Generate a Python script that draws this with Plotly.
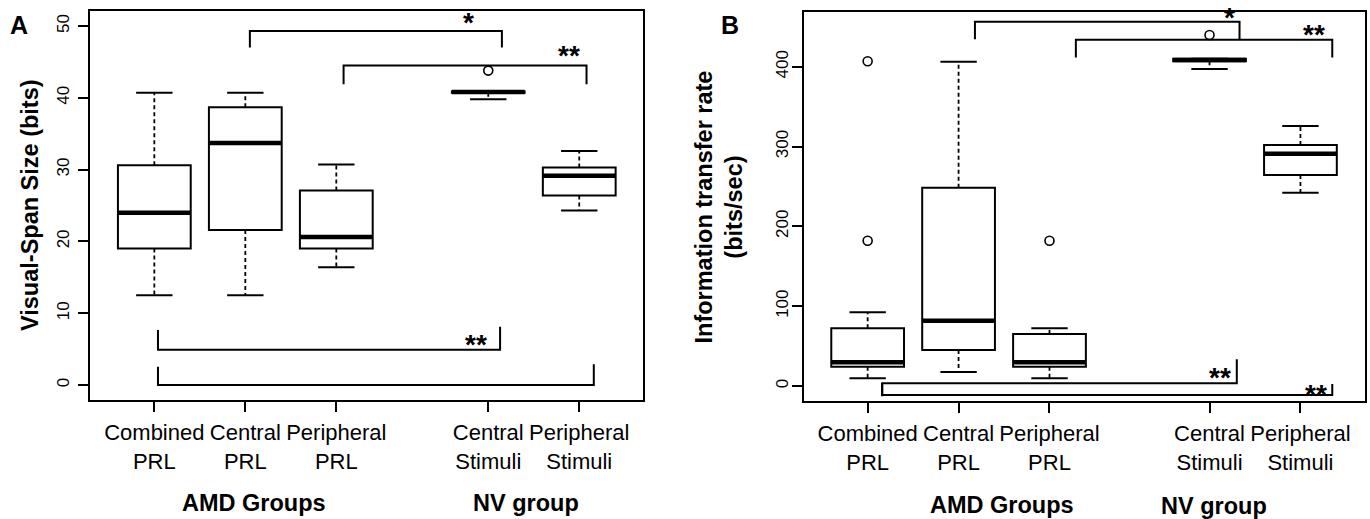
import plotly.graph_objects as go

W, H = 1370, 519
FONT = "Liberation Sans, Arial, Helvetica, sans-serif"

# ---------------- data ----------------
categories = ["Combined<br>PRL", "Central<br>PRL", "Peripheral<br>PRL",
              "Central<br>Stimuli", "Peripheral<br>Stimuli"]
pos_a = [1, 2, 3, 4.67, 5.67]
pos_b = [1, 2, 3, 4.76, 5.76]

# Panel A: Visual-Span Size (bits)
a_lower = [12.5, 12.5, 16.4, 39.8, 24.3]
a_q1 = [19.0, 21.6, 19.0, 40.7, 26.4]
a_median = [24.0, 33.7, 20.6, 40.8, 29.15]
a_q3 = [30.6, 38.7, 27.1, 40.9, 30.3]
a_upper = [40.7, 40.7, 30.7, 40.9, 32.6]
a_out_cat = [3]
a_out_val = [43.8]
a_yticks = [0, 10, 20, 30, 40, 50]

# Panel B: Information transfer rate (bits/sec)
b_lower = [9.6, 17.5, 9.6, 397.2, 242.2]
b_q1 = [24.2, 45.1, 24.2, 407.0, 264.4]
b_median = [29.7, 81.8, 29.7, 408.5, 291.1]
b_q3 = [72.3, 248.5, 65.2, 410.0, 302.0]
b_upper = [92.3, 406.4, 72.3, 410.0, 325.8]
b_out_cat = [0, 0, 2, 3]
b_out_val = [407.0, 182.0, 182.0, 439.8]
b_yticks = [0, 100, 200, 300, 400]

# significance brackets: x-left, x-right, bar level, left-leg end, right-leg end
a_br_x0 = [2.05, 3.08, 1.04, 1.04]
a_br_x1 = [4.82, 5.75, 4.80, 5.83]
a_br_y = [49.3, 44.5, 4.9, 0.0]
a_br_yl = [47.0, 41.9, 7.66, 2.55]
a_br_yr = [47.0, 41.9, 8.1, 2.9]
a_sig_text = ["*", "**", "**"]
a_sig_x = [4.45, 5.56, 4.54]
a_sig_y = [51.3, 46.7, 6.5]

b_br_x0 = [2.18, 3.29, 1.16, 1.16]
b_br_x1 = [5.09, 6.11, 5.06, 6.11]
b_br_y = [456.5, 434.0, 3.4, -11.3]
b_br_yl = [434.5, 411.6, -13.0, 3.4]
b_br_yr = [434.5, 411.6, 33.4, 2.5]
b_sig_text = ["*", "**", "**", "**"]
b_sig_x = [4.98, 5.91, 4.88, 5.93]
b_sig_y = [469.0, 448.0, 17.9, -2.9]


def px(x):
    return x / W


def py(y):
    return 1 - y / H


fig = go.Figure()


def add_panel(xa, ya, pos, lower, q1, med, q3, upper, out_cat, out_val,
              bx0, bx1, by, byl, byr):
    # box bodies
    fig.add_trace(go.Box(
        x=pos, q1=q1, median=med, q3=q3, lowerfence=q1, upperfence=q3,
        width=0.8, whiskerwidth=0, fillcolor="white",
        line=dict(color="black", width=2), boxpoints=False,
        xaxis=xa, yaxis=ya, showlegend=False, hoverinfo="skip"))
    # dashed whiskers, caps, thick medians
    wx, wy, cx, cy, mx, my = [], [], [], [], [], []
    for p, lo, a, m, b, up in zip(pos, lower, q1, med, q3, upper):
        wx += [p, p, None, p, p, None]
        wy += [b, up, None, a, lo, None]
        cx += [p - 0.2, p + 0.2, None, p - 0.2, p + 0.2, None]
        cy += [up, up, None, lo, lo, None]
        mx += [p - 0.4, p + 0.4, None]
        my += [m, m, None]
    fig.add_trace(go.Scatter(x=wx, y=wy, mode="lines", xaxis=xa, yaxis=ya,
                             line=dict(color="black", width=1.8, dash="4px,3px"),
                             showlegend=False, hoverinfo="skip"))
    fig.add_trace(go.Scatter(x=cx, y=cy, mode="lines", xaxis=xa, yaxis=ya,
                             line=dict(color="black", width=2),
                             showlegend=False, hoverinfo="skip"))
    fig.add_trace(go.Scatter(x=mx, y=my, mode="lines", xaxis=xa, yaxis=ya,
                             line=dict(color="black", width=4.5),
                             showlegend=False, hoverinfo="skip"))
    # outliers
    fig.add_trace(go.Scatter(x=[pos[c] for c in out_cat], y=out_val, mode="markers",
                             xaxis=xa, yaxis=ya,
                             marker=dict(symbol="circle-open", size=9, color="black",
                                         line=dict(width=1.6)),
                             showlegend=False, hoverinfo="skip"))
    # significance brackets
    gx, gy = [], []
    for x0, x1, y, yl, yr in zip(bx0, bx1, by, byl, byr):
        gx += [x0, x0, x1, x1, None]
        gy += [yl, y, y, yr, None]
    fig.add_trace(go.Scatter(x=gx, y=gy, mode="lines", xaxis=xa, yaxis=ya,
                             line=dict(color="black", width=2),
                             showlegend=False, hoverinfo="skip", cliponaxis=False))


add_panel("x", "y", pos_a, a_lower, a_q1, a_median, a_q3, a_upper, a_out_cat, a_out_val,
          a_br_x0, a_br_x1, a_br_y, a_br_yl, a_br_yr)
add_panel("x2", "y2", pos_b, b_lower, b_q1, b_median, b_q3, b_upper, b_out_cat, b_out_val,
          b_br_x0, b_br_x1, b_br_y, b_br_yl, b_br_yr)

axis_common = dict(showline=True, mirror=True, linecolor="black", linewidth=2,
                   ticks="outside", ticklen=10, tickwidth=2, tickcolor="black",
                   showgrid=False, zeroline=False, automargin=False,
                   tickfont=dict(family=FONT, size=22, color="black"))

fig.update_layout(
    width=W, height=H, margin=dict(l=0, r=0, t=0, b=0),
    paper_bgcolor="white", plot_bgcolor="white",
    xaxis=dict(axis_common, domain=[px(90), px(643.3)], range=[0.293, 6.374],
               tickvals=pos_a, ticktext=categories, anchor="y", ticklabelstandoff=2),
    yaxis=dict(axis_common, domain=[py(400), py(11)], range=[-2.09, 52.1],
               tickvals=a_yticks, tickangle=-90, anchor="x", ticklabelstandoff=2,
               tickfont=dict(family=FONT, size=17, color="black")),
    xaxis2=dict(axis_common, domain=[px(804), px(1365)], range=[0.30, 6.47],
                tickvals=pos_b, ticktext=categories, anchor="y2", ticklabelstandoff=2),
    yaxis2=dict(axis_common, domain=[py(401), py(11.7)], range=[-18.8, 469],
                tickvals=b_yticks, tickangle=-90, anchor="x2", ticklabelstandoff=-3,
                tickfont=dict(family=FONT, size=17, color="black")),
)

ann = []


def text(x, y, s, size, bold=True, angle=0, xref="paper", yref="paper", yshift=0):
    ann.append(dict(x=x, y=y, xref=xref, yref=yref, text=f"<b>{s}</b>" if bold else s,
                    showarrow=False, textangle=angle, xanchor="center", yanchor="middle",
                    yshift=yshift, font=dict(family=FONT, size=size, color="black")))


text(px(18.5), py(25), "A", 25)
text(px(730), py(25), "B", 25)
text(px(30), py(205), "Visual-Span Size (bits)", 23.5, angle=-90)
text(px(718.5), py(207), "Information transfer rate<br>(bits/sec)", 23.5, angle=-90)
text(px(253.5), py(503), "AMD Groups", 23.5)
text(px(525.5), py(503), "NV group", 23.5)
text(px(1002), py(505), "AMD Groups", 23.5)
text(px(1214), py(506), "NV group", 23.5)
for s, x, y in zip(a_sig_text, a_sig_x, a_sig_y):
    text(x, y, s, 28, xref="x", yref="y", yshift=-6)
for s, x, y in zip(b_sig_text, b_sig_x, b_sig_y):
    text(x, y, s, 28, xref="x2", yref="y2", yshift=-6)

fig.update_layout(annotations=ann)
fig.write_html("out.html", config={"displayModeBar": False},
               post_script="document.body.style.margin='0';document.body.style.overflow='hidden';")
